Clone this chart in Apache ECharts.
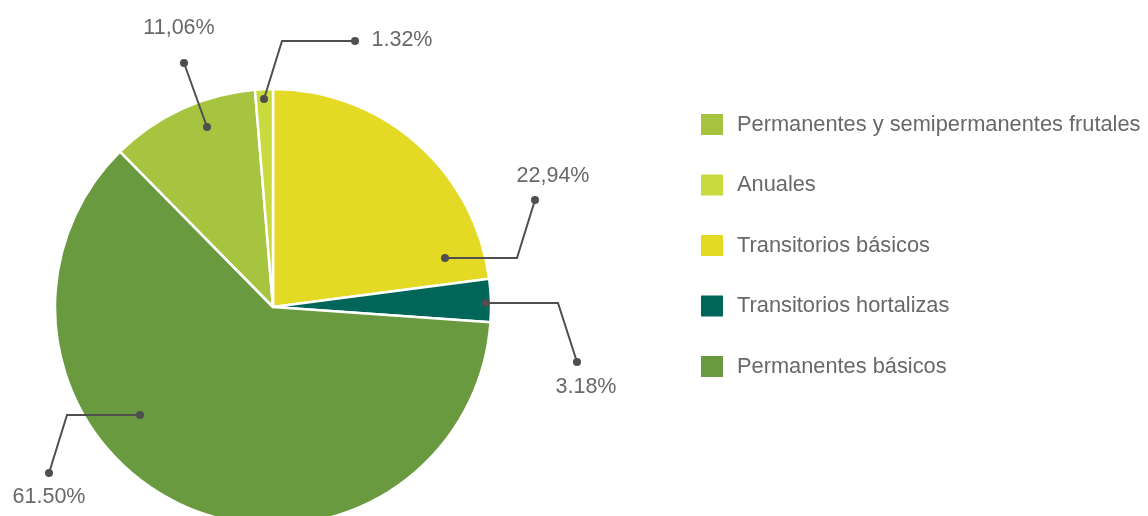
<!DOCTYPE html>
<html>
<head>
<meta charset="utf-8">
<script src="https://cdn.jsdelivr.net/npm/echarts@6/dist/echarts.min.js"></script>
<style>
html,body{margin:0;padding:0;background:#fff;}
#chartDiv{width:1148px;height:516px;}
</style>
</head>
<body>
<div id="chartDiv"></div>
<script>
// datos del grafico
var categories = ['Transitorios básicos', 'Transitorios hortalizas', 'Permanentes básicos', 'Permanentes y semipermanentes frutales', 'Anuales'];
var shares = [22.94, 3.18, 61.50, 11.06, 1.32];
var shareLabels = ['22,94%', '3.18%', '61.50%', '11,06%', '1.32%'];
var legendOrder = ['Permanentes y semipermanentes frutales', 'Anuales', 'Transitorios básicos', 'Transitorios hortalizas', 'Permanentes básicos'];

var colorsArr = ['#e4d924', '#01665a', '#6a9a3f', '#a6c440', '#c8da3e'];
var textFont = 'Liberation Sans';

// guias de las etiquetas: punto interior, codo, punto exterior y centro del texto
var guides = [
	{line: [[445, 258], [517, 258], [535, 200]], text: [553, 176]},
	{line: [[486, 303], [558, 303], [577, 362]], text: [586, 387]},
	{line: [[140, 415], [67, 415], [49, 473]], text: [49, 497]},
	{line: [[207, 127], [184, 63]], text: [179, 28]},
	{line: [[264, 99], [282, 41], [355, 41]], text: [402, 40]}
];

//lineas y puntos de las guias
function genGuides() {
	var els = [];
	for (var i = 0; i < guides.length; i++) {
		var pts = guides[i].line;
		els.push({
			type: 'polyline',
			z: 100,
			shape: {points: pts},
			style: {stroke: '#4f4f4f', lineWidth: 2, fill: null}
		});
		var ends = [pts[0], pts[pts.length - 1]];
		for (var k = 0; k < ends.length; k++) {
			els.push({
				type: 'circle',
				z: 101,
				shape: {cx: ends[k][0], cy: ends[k][1], r: 4},
				style: {fill: '#4f4f4f'}
			});
		}
	}
	return els;
}

var seriesData = [];
for (var i = 0; i < categories.length; i++) {
	seriesData.push({
		name: categories[i],
		value: shares[i],
		itemStyle: {color: colorsArr[i]}
	});
}

var myChart = echarts.init(document.getElementById('chartDiv'));
var option = {
	animation: false,
	legend: {
		orient: 'vertical',
		left: 694,
		top: 107,
		itemWidth: 24,
		itemHeight: 23,
		itemGap: 35.5,
		icon: 'rect',
		data: legendOrder,
		textStyle: {
			color: '#686868',
			fontSize: 21.8,
			fontFamily: textFont,
			padding: [0, 0, 0, 8]
		}
	},
	graphic: genGuides(),
	series: [
		{
			type: 'pie',
			center: [273, 307],
			radius: 218,
			startAngle: 90,
			clockwise: true,
			avoidLabelOverlap: false,
			itemStyle: {
				borderColor: '#ffffff',
				borderWidth: 2.5
			},
			label: {
				show: true,
				formatter: function(params) {
					return shareLabels[params.dataIndex];
				},
				color: '#686868',
				fontSize: 21.5,
				fontFamily: textFont
			},
			labelLine: {show: false},
			labelLayout: function(params) {
				var g = guides[params.dataIndex];
				return {
					x: g.text[0],
					y: g.text[1],
					align: 'center',
					verticalAlign: 'middle'
				};
			},
			data: seriesData
		}
	]
};
myChart.setOption(option);
</script>
</body>
</html>
